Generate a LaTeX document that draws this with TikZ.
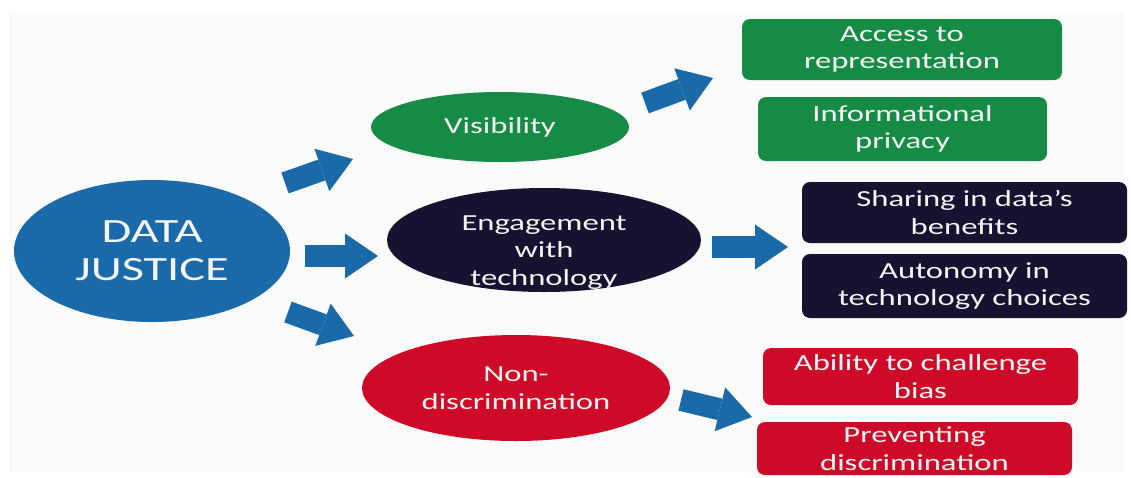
\documentclass[tikz,border=0pt]{standalone}
\usepackage{fontspec}
\setmainfont{Carlito}[FakeStretch=1.42]
\usetikzlibrary{shapes.geometric,arrows.meta}

\definecolor{djblue}{HTML}{1A6AA9}
\definecolor{visgreen}{HTML}{168B46}
\definecolor{engnavy}{HTML}{16122F}
\definecolor{nonred}{HTML}{CF0A29}
\definecolor{paper}{HTML}{FAFAFA}
\definecolor{ink}{HTML}{F4F4F4}

\begin{document}
\begin{tikzpicture}[x=1pt,y=-1pt,
  txt/.style={text=ink, align=center, inner sep=0pt,
              font=\fontsize{23}{27.5}\selectfont},
  oval/.style={ellipse, txt},
  card/.style={rectangle, rounded corners=8pt, txt},
  push/.style={draw=djblue, line width=22pt,
               -{Triangle[width=45pt,length=33pt,line width=0pt]}}
]
\useasboundingbox (0,0) rectangle (1131,477);
\fill[paper] (9,13) rectangle (1124,472);

% central concept and its three dimensions
\node[oval, fill=djblue, minimum width=276pt, minimum height=142pt,
      font=\fontsize{34}{38}\selectfont] (dj) at (152,251) {DATA\\JUSTICE};
\node[oval, fill=visgreen, minimum width=258pt, minimum height=70pt]
      (vis) at (500,127) {Visibility};
% the three text lines sit a little below the middle of this oval
\node[oval, fill=engnavy, minimum width=314pt, minimum height=104pt,
      inner ysep=-20pt, align=none] (eng) at (544,240)
      {\raisebox{0pt}[\dimexpr\height+24pt\relax]{%
        \begin{tabular}{@{}c@{}}Engagement\\with\\technology\end{tabular}}};
\node[oval, fill=nonred, minimum width=308pt, minimum height=106pt]
      (non) at (516,388) {Non-\\discrimination};

% pillars of each dimension
\node[card, fill=visgreen, minimum width=320pt, minimum height=61pt]
      (acc) at (902,49.5) {Access to\\representation};
\node[card, fill=visgreen, minimum width=289pt, minimum height=64pt]
      (inf) at (902.5,129) {Informational\\privacy};
\node[card, fill=engnavy, minimum width=325pt, minimum height=61pt]
      (sha) at (964.5,212.5) {Sharing in data’s\\benefits};
\node[card, fill=engnavy, minimum width=325pt, minimum height=64pt]
      (aut) at (964.5,286) {Autonomy in\\technology choices};
\node[card, fill=nonred, minimum width=315pt, minimum height=57pt]
      (abi) at (920.5,376.5) {Ability to challenge\\bias};
\node[card, fill=nonred, minimum width=315pt, minimum height=53pt]
      (pre) at (914.5,448.5) {Preventing\\discrimination};

% block arrows between the levels
\coordinate (a1s) at (285,183);  \coordinate (a1e) at (353,159);
\coordinate (a2s) at (305,256);  \coordinate (a2e) at (378,256);
\coordinate (a3s) at (288,312);  \coordinate (a3e) at (354,336);
\coordinate (a4s) at (645,103);  \coordinate (a4e) at (713,78);
\coordinate (a5s) at (712,247);  \coordinate (a5e) at (788,247);
\coordinate (a6s) at (681,400);  \coordinate (a6e) at (752,417);

\draw[push] (a1s) -- (a1e);
\draw[push] (a2s) -- (a2e);
\draw[push] (a3s) -- (a3e);
\draw[push] (a4s) -- (a4e);
\draw[push] (a5s) -- (a5e);
\draw[push] (a6s) -- (a6e);
\end{tikzpicture}
\end{document}
